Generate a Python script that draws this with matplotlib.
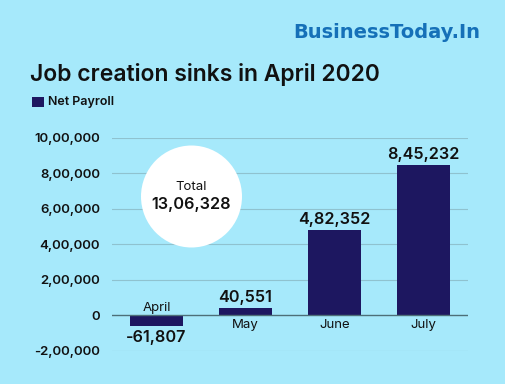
import matplotlib.pyplot as plt
from matplotlib.patches import Ellipse, Rectangle

months = ["April", "May", "June", "July"]
net_payroll = [-61807, 40551, 482352, 845232]
y_ticks = [-200000, 0, 200000, 400000, 600000, 800000, 1000000]

BG = "#a6e9fb"
BAR = "#1d1760"
FONT = ["Inter", "DejaVu Sans"]


def indian_format(n):
    # 1306328 -> 13,06,328
    sign = "-" if n < 0 else ""
    s = str(abs(int(n)))
    if len(s) <= 3:
        return sign + s
    head, tail = s[:-3], s[-3:]
    parts = []
    while len(head) > 2:
        parts.insert(0, head[-2:])
        head = head[:-2]
    if head:
        parts.insert(0, head)
    return sign + ",".join(parts) + "," + tail


def main():
    plt.rcParams["font.family"] = FONT
    fig = plt.figure(figsize=(5.05, 3.84), dpi=100)
    fig.patch.set_facecolor(BG)
    ax = fig.add_axes([112 / 505, 1 - 350.7 / 384, 356 / 505, 213 / 384])
    ax.set_facecolor(BG)

    x = range(len(months))
    ax.bar(x, net_payroll, width=0.59, color=BAR, zorder=3)

    ax.set_xlim(-0.5, len(months) - 0.5)
    ax.set_ylim(y_ticks[0], y_ticks[-1])
    ax.set_yticks(y_ticks)
    ax.set_yticklabels([indian_format(t) for t in y_ticks], fontsize=9.5,
                       fontweight="semibold", color="#111111")
    ax.set_xticks([])
    ax.tick_params(axis="y", length=0, pad=8.5)
    for s in ax.spines.values():
        s.set_visible(False)
    for t in y_ticks:
        if t == 0:
            ax.axhline(t, color="#4d6f78", lw=1.0, zorder=4)
        else:
            ax.axhline(t, color="#8fc2cf", lw=0.8, zorder=1)

    for i, v in enumerate(net_payroll):
        if v < 0:
            ax.annotate(indian_format(v), (i, v), xytext=(0, -3), textcoords="offset points",
                        ha="center", va="top", fontsize=11.7, fontweight="semibold",
                        color="#111111")
            ax.annotate(months[i], (i, 0), xytext=(0, 3), textcoords="offset points",
                        ha="center", va="baseline", fontsize=9.5, color="#111111")
        else:
            ax.annotate(indian_format(v), (i, v), xytext=(0, 2), textcoords="offset points",
                        ha="center", va="bottom", fontsize=11.7, fontweight="semibold",
                        color="#111111")
            ax.annotate(months[i], (i, 0), xytext=(0, -3), textcoords="offset points",
                        ha="center", va="top", fontsize=9.5, color="#111111")

    # total bubble
    circ = Ellipse((191.5 / 505, 1 - 196.5 / 384), 101 / 505, 102 / 384,
                   transform=fig.transFigure, facecolor="white", edgecolor="none", zorder=5)
    fig.patches.append(circ)
    fig.text(191.5 / 505, 1 - 187 / 384, "Total", ha="center", va="center",
             fontsize=9.5, color="#111111", zorder=6)
    fig.text(191.5 / 505, 1 - 204 / 384, indian_format(sum(net_payroll)), ha="center",
             va="center", fontsize=11.7, fontweight="semibold", color="#111111", zorder=6)

    # header
    fig.text(480 / 505, 1 - 32 / 384, "BusinessToday.In", ha="right", va="center",
             fontsize=14, fontweight="bold", color="#1570b8", family="DejaVu Sans")
    fig.text(30 / 505, 1 - 75 / 384, "Job creation sinks in April 2020", ha="left",
             va="center", fontsize=16.5, fontweight="semibold", color="#111111")
    fig.patches.append(Rectangle((32 / 505, 1 - 107 / 384), 12 / 505, 10 / 384,
                                 transform=fig.transFigure, facecolor=BAR, edgecolor="none"))
    fig.text(48 / 505, 1 - 102 / 384, "Net Payroll", ha="left", va="center",
             fontsize=9, fontweight="semibold", color="#111111")

    fig.savefig("out.png", dpi=100, facecolor=BG)


if __name__ == "__main__":
    main()
